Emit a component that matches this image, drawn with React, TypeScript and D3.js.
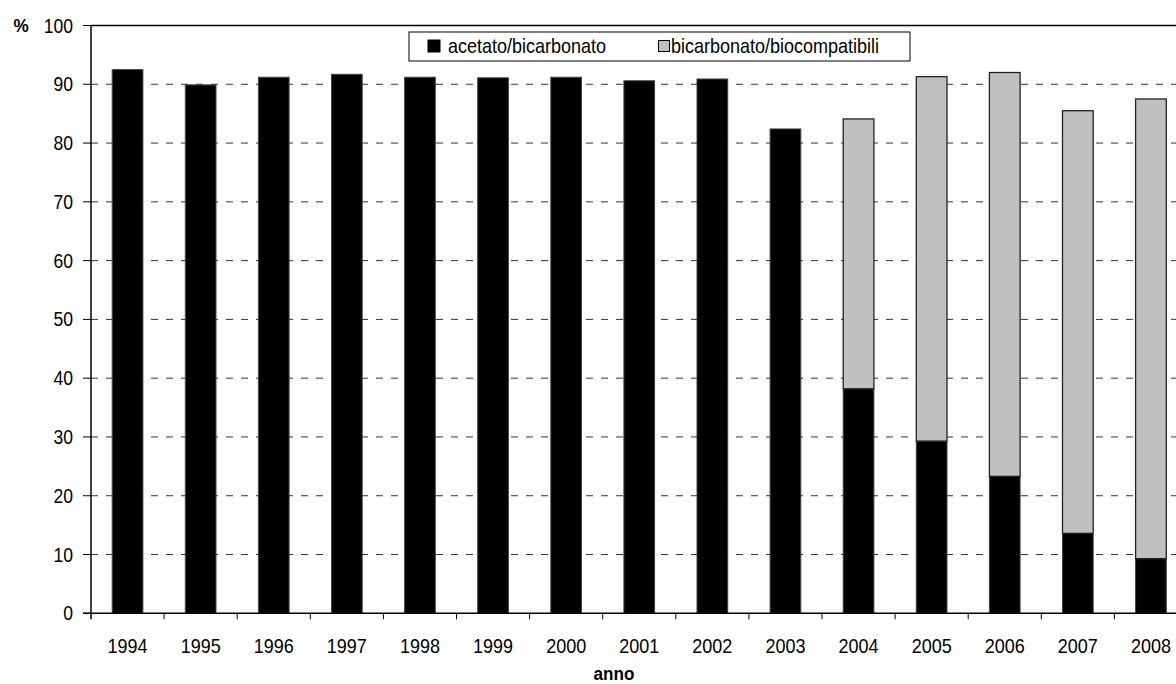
import * as d3 from 'd3';

const years = ['1994', '1995', '1996', '1997', '1998', '1999', '2000', '2001', '2002', '2003', '2004', '2005', '2006', '2007', '2008'];
const acetato = [92.5, 89.9, 91.2, 91.7, 91.2, 91.1, 91.2, 90.6, 90.9, 82.4, 38.2, 29.3, 23.3, 13.6, 9.3];
const biocompatibili = [0, 0, 0, 0, 0, 0, 0, 0, 0, 0, 45.9, 62.0, 68.7, 71.9, 78.2];
const yTicks = [0, 10, 20, 30, 40, 50, 60, 70, 80, 90, 100];
const seriesNames = ['acetato/bicarbonato', 'bicarbonato/biocompatibili'];

const width = 1176;
const height = 684;
const font = '"Liberation Sans", Arial, sans-serif';

const Label = ({ x, y, anchor = 'middle', bold = false, size = 20, children }: any) => (
  <g transform={`translate(${x},${y}) scale(0.9,1)`}>
    <text fontFamily={font} fontSize={size} fontWeight={bold ? 'bold' : 'normal'} textAnchor={anchor} fill="#000">
      {children}
    </text>
  </g>
);

export default function App() {
  const left = 91;
  const top = 25.5;
  const bottom = 613.3;
  const bandW = 73.1;

  const x = d3
    .scaleBand<string>()
    .domain(years)
    .range([left, left + bandW * years.length])
    .paddingInner(0.58)
    .paddingOuter(0.29);
  const y = d3.scaleLinear().domain([0, 100]).range([bottom, top]);
  const right = left + bandW * years.length;

  const stack = years.map((yr, i) => ({ yr, a: acetato[i], b: biocompatibili[i] }));

  return (
    <svg width={width} height={height} style={{ position: 'absolute', left: 0, top: 0, background: '#fff' }}>
      {/* gridlines */}
      {yTicks
        .filter((t) => t > 0 && t < 100)
        .map((t) => (
          <line key={t} x1={left} x2={right} y1={y(t)} y2={y(t)} stroke="#333" strokeWidth={1} strokeDasharray="7,8" />
        ))}
      <line x1={left} x2={right} y1={top} y2={top} stroke="#000" strokeWidth={1.5} />

      {/* bars */}
      {stack.map((d) => (
        <g key={d.yr}>
          <rect x={x(d.yr)} width={x.bandwidth()} y={y(d.a)} height={bottom - y(d.a)} fill="#000" stroke="#444" strokeWidth={1} />
          {d.b > 0 && (
            <rect
              x={x(d.yr)}
              width={x.bandwidth()}
              y={y(d.a + d.b)}
              height={y(d.a) - y(d.a + d.b)}
              fill="#C0C0C0"
              stroke="#222"
              strokeWidth={1.3}
            />
          )}
        </g>
      ))}

      {/* axes */}
      <line x1={left} x2={left} y1={top} y2={bottom + 6} stroke="#000" strokeWidth={1.5} />
      <line x1={left - 8} x2={right} y1={bottom} y2={bottom} stroke="#000" strokeWidth={1.5} />
      {yTicks.map((t) => (
        <g key={t}>
          <line x1={left - 8} x2={left} y1={y(t)} y2={y(t)} stroke="#000" strokeWidth={1} />
          <Label x={73} y={y(t) + 7} anchor="end" size={19.5}>
            {t}
          </Label>
        </g>
      ))}
      {years.map((yr, i) => (
        <g key={yr}>
          <line x1={left + bandW * (i + 1)} x2={left + bandW * (i + 1)} y1={bottom} y2={bottom + 6} stroke="#000" strokeWidth={1} />
          <Label x={(x(yr) as number) + x.bandwidth() / 2} y={653}>
            {yr}
          </Label>
        </g>
      ))}
      <Label x={21} y={32} bold size={19}>
        %
      </Label>
      <Label x={614} y={680} bold size={19}>
        anno
      </Label>

      {/* legend */}
      <rect x={409} y={32} width={501} height={29} fill="#fff" stroke="#000" strokeWidth={1} />
      <rect x={428} y={40} width={12} height={12} fill="#000" stroke="#000" />
      <Label x={448} y={53} anchor="start">
        {seriesNames[0]}
      </Label>
      <rect x={658.5} y={40.5} width={11} height={11} fill="#C0C0C0" stroke="#000" />
      <Label x={671} y={53} anchor="start">
        {seriesNames[1]}
      </Label>
    </svg>
  );
}
